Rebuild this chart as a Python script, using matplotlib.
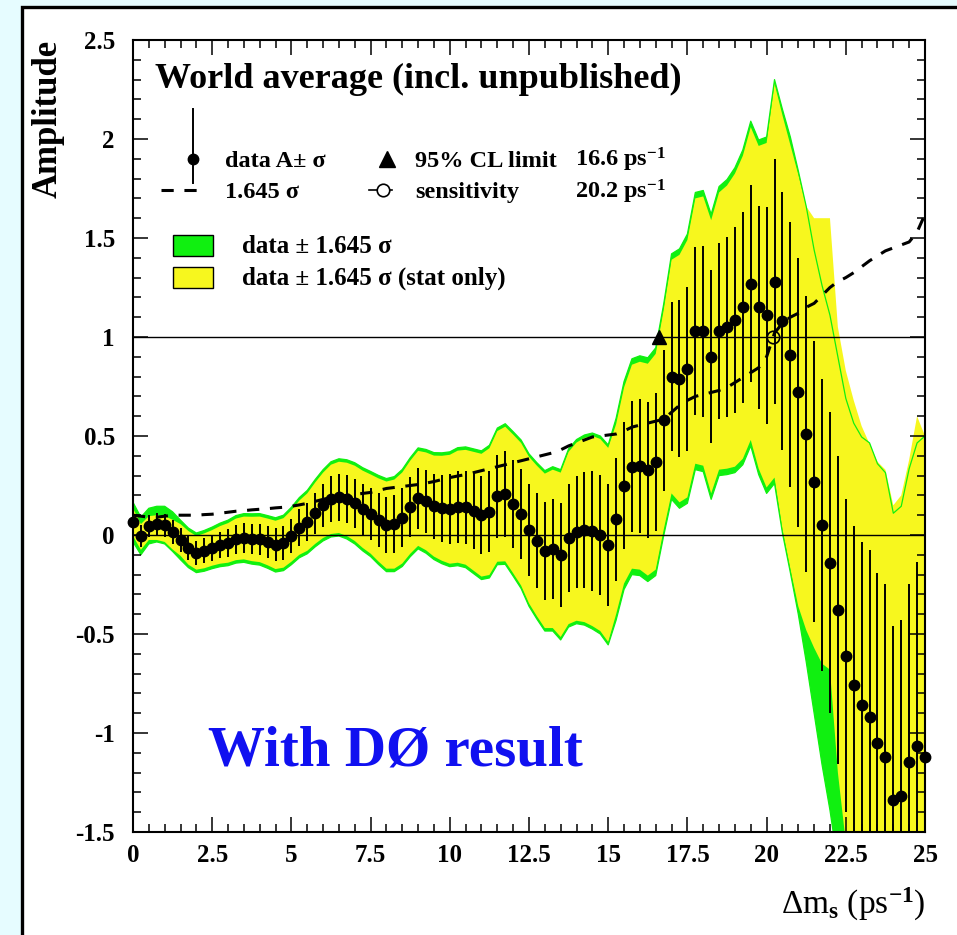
import numpy as np
import matplotlib.pyplot as plt
from matplotlib.patches import Rectangle
from matplotlib.ticker import MultipleLocator, FuncFormatter

plt.rcParams['font.family'] = 'Liberation Serif'
plt.rcParams['font.weight'] = 'bold'
plt.rcParams['font.size'] = 18
plt.rcParams['mathtext.fontset'] = 'custom'
plt.rcParams['mathtext.rm'] = 'Liberation Serif:bold'
plt.rcParams['mathtext.it'] = 'Liberation Serif:italic:bold'
plt.rcParams['mathtext.bf'] = 'Liberation Serif:bold'
plt.rcParams['axes.unicode_minus'] = False

# Delta m_s scan points (ps^-1), one every 0.25
dm = np.linspace(0, 25, 101)

# amplitude values
amp = np.array([
    0.065, -0.005, 0.045, 0.055, 0.05, 0.017, -0.025, -0.065, -0.09, -0.08,
    -0.065, -0.05, -0.04, -0.022, -0.015, -0.02, -0.022, -0.035, -0.05, -0.04,
    -0.005, 0.037, 0.065, 0.11, 0.15, 0.18, 0.19, 0.18, 0.16, 0.13,
    0.106, 0.076, 0.05, 0.055, 0.086, 0.14, 0.185, 0.17, 0.146, 0.135,
    0.13, 0.143, 0.14, 0.12, 0.10, 0.118, 0.195, 0.207, 0.157, 0.105,
    0.025, -0.03, -0.08, -0.07, -0.10, -0.015, 0.017, 0.025, 0.02, 0.0,
    -0.05, 0.08, 0.25, 0.345, 0.35, 0.33, 0.37, 0.58, 0.80, 0.79,
    0.84, 1.03, 1.03, 0.90, 1.03, 1.05, 1.085, 1.15, 1.27, 1.15,
    1.11, 1.28, 1.08, 0.91, 0.72, 0.51, 0.27, 0.05, -0.14, -0.38,
    -0.61, -0.76, -0.86, -0.92, -1.05, -1.12, -1.34, -1.32, -1.145, -1.065,
    -1.12])

# 1.645 sigma (total) -> dashed curve and green band half width
sig165 = np.array([
    0.10, 0.095, 0.09, 0.09, 0.095, 0.10, 0.10, 0.10, 0.10, 0.103,
    0.105, 0.11, 0.115, 0.12, 0.123, 0.127, 0.13, 0.133, 0.137, 0.14,
    0.145, 0.152, 0.16, 0.17, 0.18, 0.19, 0.195, 0.20, 0.205, 0.21,
    0.215, 0.225, 0.235, 0.24, 0.245, 0.25, 0.255, 0.262, 0.27, 0.28,
    0.29, 0.298, 0.305, 0.315, 0.325, 0.335, 0.345, 0.355, 0.365, 0.375,
    0.385, 0.395, 0.405, 0.415, 0.43, 0.45, 0.465, 0.48, 0.495, 0.50,
    0.505, 0.51, 0.525, 0.545, 0.555, 0.565, 0.575, 0.585, 0.62, 0.655,
    0.68, 0.70, 0.71, 0.72, 0.73, 0.745, 0.77, 0.795, 0.82, 0.845,
    0.90, 1.02, 1.07, 1.10, 1.12, 1.15, 1.17, 1.21, 1.25, 1.28,
    1.30, 1.325, 1.355, 1.385, 1.41, 1.435, 1.45, 1.465, 1.48, 1.53,
    1.62])

# 1.645 sigma (stat only) above / below the points -> yellow band
stat_up = np.array([
    0.07, 0.06, 0.05, 0.045, 0.045, 0.06, 0.08, 0.085, 0.085, 0.088,
    0.09, 0.095, 0.10, 0.105, 0.108, 0.112, 0.115, 0.118, 0.122, 0.125,
    0.13, 0.137, 0.145, 0.155, 0.165, 0.175, 0.18, 0.185, 0.19, 0.195,
    0.20, 0.21, 0.22, 0.225, 0.23, 0.235, 0.24, 0.247, 0.255, 0.265,
    0.275, 0.283, 0.29, 0.30, 0.31, 0.32, 0.33, 0.34, 0.35, 0.36,
    0.37, 0.38, 0.39, 0.40, 0.415, 0.435, 0.45, 0.465, 0.48, 0.485,
    0.49, 0.48, 0.495, 0.515, 0.525, 0.535, 0.545, 0.555, 0.59, 0.625,
    0.65, 0.67, 0.68, 0.69, 0.70, 0.715, 0.74, 0.765, 0.79, 0.815,
    0.87, 1.0, 1.04, 1.06, 1.10, 1.15, 1.33, 1.55, 1.74, 1.43,
    1.44, 1.44, 1.41, 1.38, 1.42, 1.45, 1.49, 1.52, 1.525, 1.665,
    1.62])
stat_dn = np.array([
    0.07, 0.07, 0.07, 0.08, 0.085, 0.09, 0.08, 0.085, 0.085, 0.088,
    0.09, 0.095, 0.10, 0.105, 0.108, 0.112, 0.115, 0.118, 0.122, 0.125,
    0.13, 0.137, 0.145, 0.155, 0.165, 0.175, 0.18, 0.185, 0.19, 0.195,
    0.20, 0.21, 0.22, 0.225, 0.23, 0.235, 0.24, 0.247, 0.255, 0.265,
    0.275, 0.283, 0.29, 0.30, 0.31, 0.32, 0.33, 0.34, 0.35, 0.36,
    0.37, 0.38, 0.39, 0.40, 0.415, 0.435, 0.45, 0.465, 0.48, 0.485,
    0.49, 0.48, 0.495, 0.515, 0.525, 0.535, 0.545, 0.555, 0.59, 0.625,
    0.65, 0.67, 0.68, 0.69, 0.70, 0.715, 0.74, 0.765, 0.79, 0.815,
    0.87, 0.99, 1.05, 1.08, 1.08, 0.99, 0.84, 0.70, 0.54, 0.82,
    0.94, 1.30, 1.35, 1.38, 1.40, 1.43, 1.45, 1.46, 1.48, 1.50,
    1.60])

cl_limit = 16.6
sensitivity = 20.2

GREEN = '#10f010'
YELLOW = '#f7f71e'

fig = plt.figure(figsize=(9.57, 9.35), dpi=100, facecolor='#e6fcff')
fig.add_artist(Rectangle((22 / 957, -0.05), 1.0, (935 - 6.5) / 935 + 0.05,
                         transform=fig.transFigure, facecolor='white',
                         edgecolor='black', lw=2.4, zorder=-1))

ax = fig.add_axes([133 / 957, 103 / 935, 792 / 957, 792 / 935])
ax.set_xlim(0, 25)
ax.set_ylim(-1.5, 2.5)

# bands
ax.fill_between(dm, amp - sig165, amp + sig165, color=GREEN, lw=0, zorder=1)
ax.fill_between(dm, amp - stat_dn, amp + stat_up, color=YELLOW, lw=0, zorder=2)
ax.plot(dm, amp + sig165, color=GREEN, lw=0.9, zorder=3)
ax.plot(dm, amp - sig165, color=GREEN, lw=0.9, zorder=3)

ax.axhline(0, color='k', lw=1.0, zorder=4)
ax.axhline(1, color='k', lw=1.0, zorder=4)

# 1.645 sigma curve
ax.plot(dm, sig165, color='k', lw=2.2, dashes=(4, 3.5), zorder=5)

# data points: bars clipped, markers not
ax.errorbar(dm, amp, yerr=sig165 / 1.645, fmt='none', ecolor='k',
            elinewidth=1.4, capsize=0, zorder=6)
ax.plot(dm, amp, 'o', color='k', ms=7.5, zorder=6, clip_on=False)

ax.plot(cl_limit, 1.0, marker='^', color='k', ms=10, zorder=7)
ax.plot(sensitivity, 1.0, marker='o', mfc='none', mec='k', ms=9, mew=1.2,
        zorder=7)

# axes style
ax.xaxis.set_major_locator(MultipleLocator(2.5))
ax.xaxis.set_minor_locator(MultipleLocator(0.5))
ax.yaxis.set_major_locator(MultipleLocator(0.5))
ax.yaxis.set_minor_locator(MultipleLocator(0.1))
fmt = FuncFormatter(lambda v, p: '%g' % v)
ax.xaxis.set_major_formatter(fmt)
ax.yaxis.set_major_formatter(fmt)
ax.tick_params(which='both', direction='in', top=True, right=True, width=1.1)
ax.tick_params(which='major', length=11)
ax.tick_params(which='minor', length=5.5)
ax.tick_params(axis='y', pad=13, labelsize=18)
ax.tick_params(axis='x', pad=9, labelsize=18)
for s in ax.spines.values():
    s.set_linewidth(1.5)
    s.set_zorder(10)
ax.xaxis.set_zorder(10)
ax.yaxis.set_zorder(10)

ax.text(-0.107, 1.0, 'Amplitude', transform=ax.transAxes, rotation=90,
        ha='center', va='top', fontsize=25)
ax.text(1.0, -0.092, 'Δm$_{\\rm s}$ (ps$^{-1}$)', transform=ax.transAxes,
        ha='right', va='center', fontsize=24, fontweight='normal')

# legend / text block
ax.text(0.69, 2.258, 'World average (incl. unpublished)', fontsize=26,
        va='baseline', zorder=8)

ax.plot([1.89, 1.89], [1.78, 2.15], color='k', lw=1.4, zorder=8)
ax.plot(1.89, 1.899, 'o', color='k', ms=7.5, zorder=8)
ax.text(2.90, 1.86, 'data A\u00b1 σ', fontsize=17.5, va='baseline')
ax.plot(8.02, 1.899, '^', color='k', ms=11, zorder=8)
ax.text(8.90, 1.86, '95% CL limit', fontsize=17.5, va='baseline')
ax.text(13.95, 1.86, '16.6 ps$^{-1}$', fontsize=17.5, va='baseline')

ax.plot([0.88, 2.02], [1.742, 1.742], color='k', lw=2.2, dashes=(4, 3.5))
ax.text(2.90, 1.70, '1.645 σ', fontsize=17.5, va='baseline')
ax.plot([7.45, 8.18], [1.742, 1.742], color='k', lw=1.2)
ax.plot(7.89, 1.742, 'o', mfc='white', mec='k', ms=9, mew=1.2)
ax.text(8.90, 1.70, 'sensitivity', fontsize=17.5, va='baseline')
ax.text(13.95, 1.70, '20.2 ps$^{-1}$', fontsize=17.5, va='baseline')

ax.add_patch(Rectangle((1.26, 1.409), 1.27, 0.106, facecolor=GREEN,
                       edgecolor='k', lw=1.0, zorder=8))
ax.add_patch(Rectangle((1.26, 1.247), 1.27, 0.107, facecolor=YELLOW,
                       edgecolor='k', lw=1.0, zorder=8))
ax.text(3.44, 1.424, 'data ± 1.645 σ', fontsize=18, va='baseline')
ax.text(3.44, 1.263, 'data ± 1.645 σ (stat only)', fontsize=18, va='baseline')

ax.text(2.37, -1.162, 'With DØ result', color='#1010f0', fontsize=41,
        va='baseline', zorder=8)

fig.savefig('out.png', dpi=100, facecolor=fig.get_facecolor())
